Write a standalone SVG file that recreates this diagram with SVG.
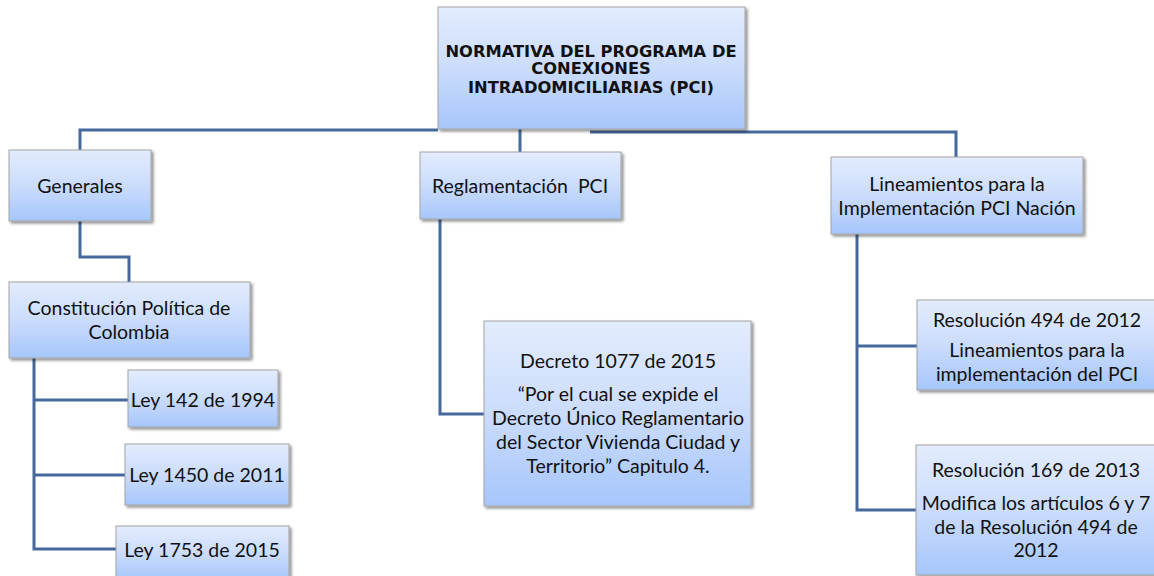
<svg xmlns="http://www.w3.org/2000/svg" width="1154" height="576" viewBox="0 0 1154 576">
<defs>
<linearGradient id="g" x1="0" y1="0" x2="0" y2="1">
<stop offset="0" stop-color="#e3ecfd"/>
<stop offset="0.5" stop-color="#cbdcfc"/>
<stop offset="1" stop-color="#a6c6fb"/>
</linearGradient>
<filter id="sh" x="-10%" y="-10%" width="130%" height="130%">
<feGaussianBlur in="SourceAlpha" stdDeviation="1.5"/>
<feOffset dx="2" dy="2" result="b"/>
<feComponentTransfer><feFuncA type="linear" slope="0.45"/></feComponentTransfer>
<feMerge><feMergeNode/><feMergeNode in="SourceGraphic"/></feMerge>
</filter>
</defs>
<style>
.box{fill:url(#g);stroke:#a3a3a3;stroke-width:1;filter:url(#sh)}
.t{font-family:Lato,"Liberation Sans",sans-serif;font-size:19.5px;fill:#111;text-anchor:middle}
.tb{font-family:"DejaVu Sans",Verdana,sans-serif;font-weight:bold;font-size:16.3px;fill:#111;text-anchor:middle}
.c{fill:none;stroke:#45699b;stroke-width:3}
</style>
<rect width="1154" height="576" fill="#fff"/>
<g id="connectors">
<polyline class="c" points="438,130 80,130 80,150"/>
<polyline class="c" points="590,132 956,132 956,157"/>
<line class="c" x1="520" y1="129" x2="520" y2="152"/>
<polyline class="c" points="80,221 80,257 129,257 129,282"/>
<polyline class="c" points="34,358 34,549 116,549"/>
<line class="c" x1="34" y1="400" x2="128" y2="400"/>
<line class="c" x1="34" y1="475" x2="125" y2="475"/>
<polyline class="c" points="440,219 440,414 484,414"/>
<polyline class="c" points="857,234 857,510 917,510"/>
<line class="c" x1="857" y1="346" x2="917" y2="346"/>
</g>
<g id="n-top">
<rect class="box" x="438" y="7" width="307" height="122"/>
<text class="tb" x="591" y="57">NORMATIVA DEL PROGRAMA DE</text>
<text class="tb" x="591" y="74">CONEXIONES</text>
<text class="tb" x="591" y="93">INTRADOMICILIARIAS (PCI)</text>
</g>
<g id="n-generales">
<rect class="box" x="9" y="150" width="142" height="71"/>
<text class="t" x="80" y="193">Generales</text>
</g>
<g id="n-reglamentacion">
<rect class="box" x="420" y="152" width="201" height="67"/>
<text class="t" x="520" y="193" xml:space="preserve" style="white-space:pre">Reglamentación  PCI</text>
</g>
<g id="n-lineamientos">
<rect class="box" x="831" y="157" width="252" height="77"/>
<text class="t" x="957" y="191">Lineamientos para la</text>
<text class="t" x="957" y="215">Implementación PCI Nación</text>
</g>
<g id="n-constitucion">
<rect class="box" x="9" y="282" width="241" height="76"/>
<text class="t" x="129" y="315">Constitución Política de</text>
<text class="t" x="129" y="339">Colombia</text>
</g>
<g id="n-ley142">
<rect class="box" x="128" y="370" width="150" height="57"/>
<text class="t" x="203" y="407">Ley 142 de 1994</text>
</g>
<g id="n-ley1450">
<rect class="box" x="125" y="444" width="164" height="61"/>
<text class="t" x="207" y="482">Ley 1450 de 2011</text>
</g>
<g id="n-ley1753">
<rect class="box" x="116" y="526" width="173" height="54"/>
<text class="t" x="202" y="557">Ley 1753 de 2015</text>
</g>
<g id="n-decreto">
<rect class="box" x="484" y="321" width="267" height="185"/>
<text class="t" x="618" y="368">Decreto 1077 de 2015</text>
<text class="t" x="618" y="401">“Por el cual se expide el</text>
<text class="t" x="618" y="425">Decreto Único Reglamentario</text>
<text class="t" x="618" y="449">del Sector Vivienda Ciudad y</text>
<text class="t" x="618" y="473">Territorio” Capitulo 4.</text>
</g>
<g id="n-res494">
<rect class="box" x="917" y="300" width="245" height="90"/>
<text class="t" x="1037" y="327">Resolución 494 de 2012</text>
<text class="t" x="1037" y="357">Lineamientos para la</text>
<text class="t" x="1037" y="381">implementación del PCI</text>
</g>
<g id="n-res169">
<rect class="box" x="916" y="445" width="246" height="130"/>
<text class="t" x="1036" y="477">Resolución 169 de 2013</text>
<text class="t" x="1036" y="510">Modifica los artículos 6 y 7</text>
<text class="t" x="1036" y="534">de la Resolución 494 de</text>
<text class="t" x="1036" y="557">2012</text>
</g>
</svg>
